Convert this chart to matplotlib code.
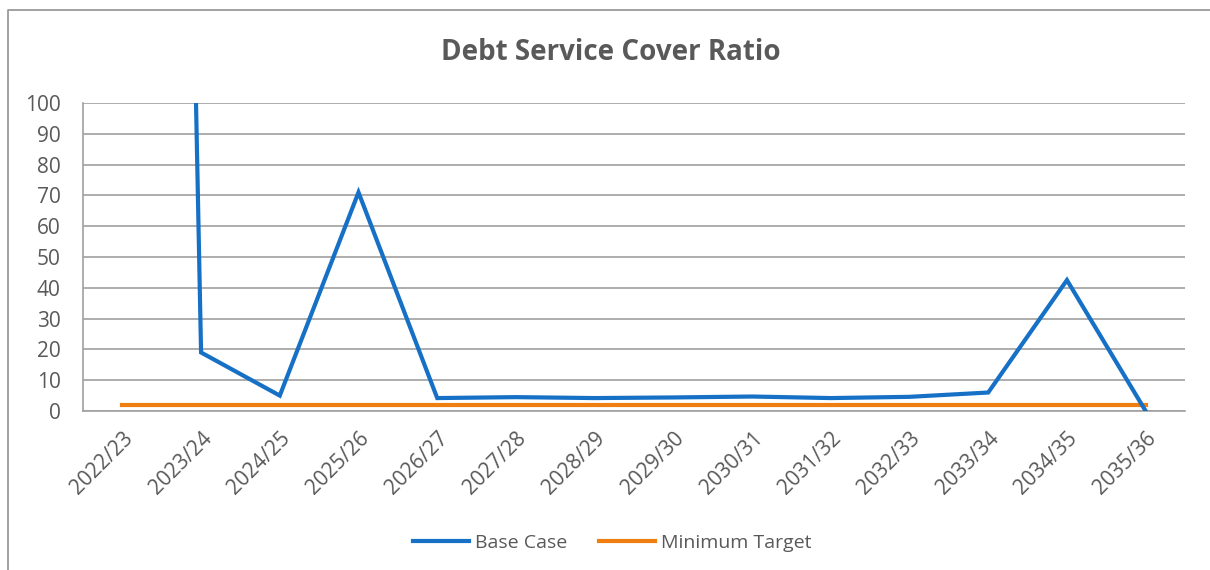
import matplotlib
matplotlib.use("Agg")
import matplotlib.pyplot as plt
from matplotlib.lines import Line2D

categories = ["2022/23", "2023/24", "2024/25", "2025/26", "2026/27", "2027/28", "2028/29",
              "2029/30", "2030/31", "2031/32", "2032/33", "2033/34", "2034/35", "2035/36"]
base_case = [1280, 19, 5, 71, 4.2, 4.5, 4.2, 4.4, 4.7, 4.2, 4.6, 6, 42.5, 0]
minimum_target = [2] * len(categories)
y_ticks = [0, 10, 20, 30, 40, 50, 60, 70, 80, 90, 100]

plt.rcParams['font.family'] = ['Open Sans', 'DejaVu Sans']
text_color = '#595959'
grid_color = '#a0a0a0'

fig = plt.figure(figsize=(12.1, 5.7), dpi=100)
ax = fig.add_axes([83/1210, 1-411/570, (1185-83)/1210, (411-103)/570])

x = list(range(len(categories)))
ax.plot(x, base_case, color='#1570C6', lw=3.0, solid_joinstyle='miter', label='Base Case', zorder=3)
ax.plot(x, minimum_target, color='#EF7F10', lw=3.0, label='Minimum Target', zorder=2)

ax.set_xlim(-0.5, len(categories) - 0.5)
ax.set_ylim(0, 100)
ax.set_yticks(y_ticks)
ax.set_xticks(x)
ax.set_xticklabels(categories, rotation=45, ha='right', va='top', rotation_mode='anchor')
ax.tick_params(axis='both', length=0, labelsize=15, colors=text_color)
ax.tick_params(axis='y', pad=16)
ax.tick_params(axis='x', pad=12)
ax.grid(axis='y', color=grid_color, lw=1.2)
ax.set_axisbelow(True)
for s in ['top', 'right']:
    ax.spines[s].set_visible(False)
for s in ['left', 'bottom']:
    ax.spines[s].set_color(grid_color)
    ax.spines[s].set_linewidth(1.2)

fig.text(0.505, 1-52/570, 'Debt Service Cover Ratio', ha='center', va='center',
         fontsize=20, fontweight='bold', color=text_color)

leg = fig.legend(loc='center', bbox_to_anchor=(0.506, 1-543/570), ncol=2, frameon=False,
                 fontsize=14, handlelength=2.9, columnspacing=1.6, handletextpad=0.3)
for t in leg.get_texts():
    t.set_color(text_color)

border = Line2D([8/1210, 8/1210, 1.0], [0.0, 1-10/570, 1-10/570], transform=fig.transFigure,
                color='#9a9a9a', lw=1.3)
fig.add_artist(border)

fig.savefig('out.png', dpi=100)
